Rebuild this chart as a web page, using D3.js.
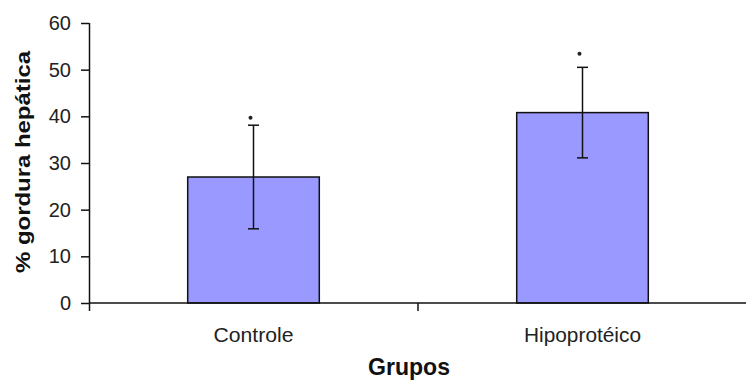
<!DOCTYPE html>
<html>
<head>
<meta charset="utf-8">
<script src="https://cdn.jsdelivr.net/npm/d3@7"></script>
<style>
  body { margin: 0; background: #fff; }
  svg { display: block; }
</style>
</head>
<body>
<div id="chart"></div>
<script>
const groups = ['Controle', 'Hipoprotéico']
const means = [27, 40.8]
const errors = [11.1, 9.7]
const markers = [39.7, 53.4] // significance dots
const yTicks = [0, 10, 20, 30, 40, 50, 60]

const width = 746
const height = 381
const margin = { top: 23, right: -1, bottom: 78, left: 89 }

const svg = d3.select('#chart')
  .append('svg')
  .attr('width', width)
  .attr('height', height)

const y = d3.scaleLinear()
  .domain([0, 60])
  .range([height - margin.bottom, margin.top])

const x = d3.scaleBand()
  .domain(groups)
  .range([margin.left, width - margin.right])
  .paddingInner(0.6)
  .paddingOuter(0.3)

const font = 'Liberation Sans, Arial, sans-serif'

// bars
svg.append('g')
  .selectAll('rect')
  .data(groups)
  .enter()
  .append('rect')
  .attr('x', (d) => x(d))
  .attr('y', (d, i) => y(means[i]))
  .attr('width', x.bandwidth())
  .attr('height', (d, i) => y(0) - y(means[i]))
  .attr('fill', '#9999ff')
  .attr('stroke', '#111')
  .attr('stroke-width', 1.5)

// error bars
const eb = svg.append('g')
  .attr('stroke', '#111')
  .attr('stroke-width', 1.5)
groups.forEach((g, i) => {
  const cx = x(g) + x.bandwidth() / 2
  eb.append('line')
    .attr('x1', cx).attr('x2', cx)
    .attr('y1', y(means[i] + errors[i])).attr('y2', y(means[i] - errors[i]))
  ;[means[i] + errors[i], means[i] - errors[i]].forEach((v) => {
    eb.append('line')
      .attr('x1', cx - 5.5).attr('x2', cx + 5.5)
      .attr('y1', y(v)).attr('y2', y(v))
  })
})

// significance marks
svg.append('g')
  .selectAll('circle')
  .data(groups)
  .enter()
  .append('circle')
  .attr('cx', (d) => x(d) + x.bandwidth() / 2 - 3)
  .attr('cy', (d, i) => y(markers[i]))
  .attr('r', 2)
  .attr('fill', '#222')

// y axis
const yAxis = svg.append('g')
  .attr('transform', `translate(${margin.left},0)`)
  .call(d3.axisLeft(y).tickValues(yTicks).tickSize(8).tickPadding(10))
yAxis.select('.domain').attr('stroke', '#111').attr('stroke-width', 1.5)
  .attr('d', `M0.5,${y(60)}H0.5V${y(0) + 8}`)
yAxis.selectAll('.tick line').attr('stroke', '#111').attr('stroke-width', 1.5)
yAxis.selectAll('.tick text')
  .attr('font-family', font)
  .attr('font-size', 20)
  .attr('fill', '#222')

// x axis
const xAxis = svg.append('g')
  .attr('transform', `translate(0,${y(0)})`)
xAxis.append('line')
  .attr('x1', margin.left).attr('x2', width)
  .attr('stroke', '#111').attr('stroke-width', 1.5)
xAxis.append('line')
  .attr('x1', (x(groups[0]) + x(groups[1]) + x.bandwidth()) / 2)
  .attr('x2', (x(groups[0]) + x(groups[1]) + x.bandwidth()) / 2)
  .attr('y1', 0).attr('y2', 8)
  .attr('stroke', '#111').attr('stroke-width', 1.5)

xAxis.selectAll('text')
  .data(groups)
  .enter()
  .append('text')
  .attr('x', (d) => x(d) + x.bandwidth() / 2)
  .attr('y', 39)
  .attr('text-anchor', 'middle')
  .attr('font-family', font)
  .attr('font-size', 21)
  .attr('fill', '#222')
  .attr('textLength', (d, i) => [80, 117][i])
  .attr('lengthAdjust', 'spacingAndGlyphs')
  .text((d) => d)

// axis titles
svg.append('text')
  .attr('x', 409)
  .attr('y', 375)
  .attr('text-anchor', 'middle')
  .attr('font-family', font)
  .attr('font-weight', 'bold')
  .attr('font-size', 24)
  .attr('fill', '#111')
  .attr('textLength', 82)
  .attr('lengthAdjust', 'spacingAndGlyphs')
  .text('Grupos')

svg.append('text')
  .attr('transform', 'translate(30,162) rotate(-90)')
  .attr('text-anchor', 'middle')
  .attr('font-family', font)
  .attr('font-weight', 'bold')
  .attr('font-size', 20)
  .attr('fill', '#111')
  .attr('textLength', 222)
  .attr('lengthAdjust', 'spacingAndGlyphs')
  .text('% gordura hepática')
</script>
</body>
</html>
